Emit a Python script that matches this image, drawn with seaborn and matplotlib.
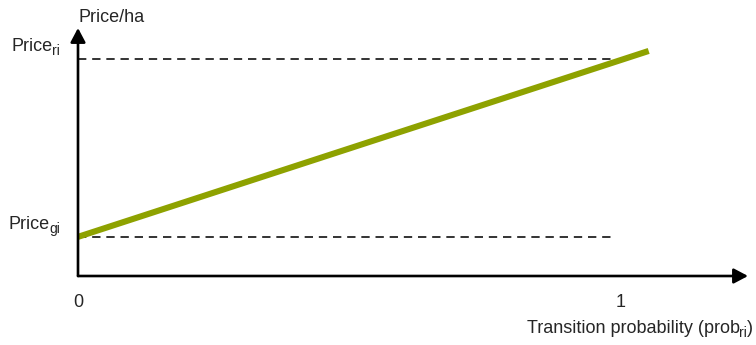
import matplotlib
matplotlib.use("Agg")
import matplotlib.pyplot as plt
from matplotlib.transforms import offset_copy
import seaborn as sns
import pandas as pd

sns.set_style("white")
plt.rcParams['font.family'] = ['Liberation Sans', 'DejaVu Sans']

# data
prob = [0.0, 1.063]
price = [0.0, 1.045]
level_values = [0.0, 1.0]
level_main = ["Price", "Price"]
level_subs = ["gi", "ri"]
dash_end = 1.0
xtick_values = [0, 1.01]
xtick_labels = ["0", "1"]
xlabel_main = "Transition probability (prob"
xlabel_sub = "ri"
ylabel_text = "Price/ha"

df = pd.DataFrame({"prob": prob, "price": price})

fig = plt.figure(figsize=(7.56, 3.45), dpi=100)
ax = fig.add_axes([78/756, 69/345, 670/756, 248/345])

for lv in level_values:
    ax.plot([0, dash_end], [lv, lv], color="#111111", lw=1.2,
            linestyle=(0, (5, 3.5)), zorder=2)

sns.lineplot(data=df, x="prob", y="price", ax=ax, color="#8ea200",
             linewidth=4.4, zorder=3, solid_capstyle="butt")

ax.set_xlim(0, 1.248)
ax.set_ylim(-0.22, 1.174)

for s in ax.spines.values():
    s.set_visible(False)

# axes with arrows
ax.annotate("", xy=(1, 0), xycoords="axes fraction", xytext=(0, 0),
            arrowprops=dict(arrowstyle="-|>,head_length=0.85,head_width=0.45",
                            color="black", lw=1.9, shrinkA=0, shrinkB=0))
ax.annotate("", xy=(0, 1), xycoords="axes fraction", xytext=(0, 0),
            arrowprops=dict(arrowstyle="-|>,head_length=0.85,head_width=0.45",
                            color="black", lw=1.9, shrinkA=0, shrinkB=0))

ax.set_xticks(xtick_values, xtick_labels)
ax.set_yticks([])
ax.tick_params(axis="x", length=0, pad=13, labelsize=13)
ax.set_xlabel("")
ax.set_ylabel("")

fig.canvas.draw()
renderer = fig.canvas.get_renderer()
FS = 13
SFS = 10


def right_label(x, y, transform, main, sub, dx_pt, dy_pt):
    """Right-aligned text 'main' followed by subscript 'sub'."""
    t_sub = ax.text(x, y, sub, fontsize=SFS, ha="right", va="baseline",
                    transform=offset_copy(transform, fig=fig, x=dx_pt,
                                          y=dy_pt - 3.2, units="points"))
    w = t_sub.get_window_extent(renderer).width * 72 / fig.dpi
    ax.text(x, y, main, fontsize=FS, ha="right", va="baseline",
            transform=offset_copy(transform, fig=fig, x=dx_pt - w + 0.4,
                                  y=dy_pt, units="points"))


ytrans = ax.get_yaxis_transform()
for lv, m, s in zip(level_values, level_main, level_subs):
    right_label(0, lv, ytrans, m, s, -13, 6)

# x label with subscript and closing parenthesis
t_par = fig.text(753/756, 1 - 333/345, ")", fontsize=FS, ha="right",
                 va="baseline")
wpar = t_par.get_window_extent(renderer).width * 72 / fig.dpi
right_label(753/756, 1 - 333/345, fig.transFigure, xlabel_main, xlabel_sub,
            -wpar, 0)

fig.text(78/756, 1 - 22/345, ylabel_text, ha="left", va="baseline", fontsize=FS)

fig.savefig("out.png", dpi=100)
